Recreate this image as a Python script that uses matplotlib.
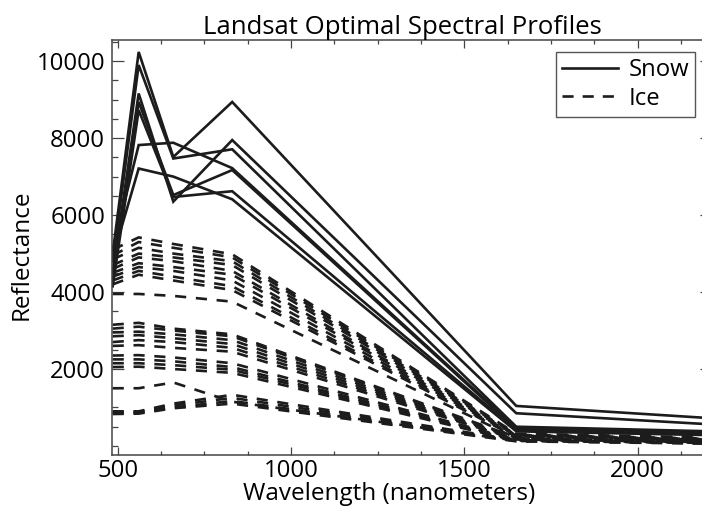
import matplotlib
matplotlib.use("Agg")
import matplotlib.pyplot as plt
from matplotlib.lines import Line2D
from matplotlib.ticker import MultipleLocator, FixedLocator
import numpy as np

# ---------------- data ----------------
wavelengths = [485, 560, 660, 830, 1650, 2215]

snow_1 = [5000, 10240, 7510, 8940, 1040, 720]
snow_2 = [4800, 9900, 7470, 7710, 500, 380]
snow_3 = [4500, 9160, 6350, 7950, 850, 560]
snow_4 = [4300, 8940, 6520, 7170, 440, 320]
snow_5 = [4150, 8730, 6470, 6620, 410, 300]
snow_6 = [5100, 7820, 7880, 7220, 470, 350]
snow_7 = [4900, 7210, 7000, 6410, 380, 280]
snow_profiles = [snow_1, snow_2, snow_3, snow_4, snow_5, snow_6, snow_7]

ice_u1 = [5100, 5420, 5250, 4980, 320, 220]
ice_u2 = [4950, 5300, 5150, 4900, 300, 200]
ice_u3 = [4850, 5150, 5000, 4800, 290, 190]
ice_u4 = [4700, 5000, 4900, 4700, 280, 180]
ice_u5 = [4600, 4900, 4800, 4550, 270, 170]
ice_u6 = [4500, 4750, 4650, 4450, 260, 160]
ice_u7 = [4400, 4650, 4550, 4300, 250, 150]
ice_u8 = [4300, 4550, 4400, 4150, 240, 140]
ice_u9 = [4200, 4450, 4300, 4050, 230, 130]
ice_u10 = [3950, 3950, 3900, 3750, 200, 110]
ice_m1 = [3150, 3200, 3050, 2900, 220, 150]
ice_m2 = [3050, 3100, 3000, 2850, 210, 140]
ice_m3 = [2950, 2970, 2900, 2750, 200, 130]
ice_m4 = [2850, 2880, 2800, 2650, 190, 120]
ice_m5 = [2700, 2750, 2700, 2550, 180, 110]
ice_m6 = [2600, 2620, 2550, 2450, 170, 100]
ice_m7 = [2350, 2360, 2300, 2150, 160, 100]
ice_m8 = [2250, 2250, 2200, 2050, 150, 90]
ice_m9 = [2150, 2150, 2100, 1980, 140, 90]
ice_m10 = [2050, 2060, 2000, 1900, 130, 80]
ice_l0 = [1500, 1500, 1650, 1150, 140, 80]
ice_l1 = [900, 900, 1100, 1330, 150, 80]
ice_l2 = [880, 880, 1050, 1250, 140, 70]
ice_l3 = [850, 860, 1000, 1170, 130, 70]
ice_l4 = [830, 840, 980, 1100, 120, 60]
ice_profiles = [ice_u1, ice_u2, ice_u3, ice_u4, ice_u5, ice_u6, ice_u7, ice_u8,
                ice_u9, ice_u10, ice_m1, ice_m2, ice_m3, ice_m4, ice_m5, ice_m6,
                ice_m7, ice_m8, ice_m9, ice_m10, ice_l0, ice_l1, ice_l2, ice_l3,
                ice_l4]

x_major_ticks = [500, 1000, 1500, 2000]
y_major_ticks = [2000, 4000, 6000, 8000, 10000]
legend_labels = ["Snow", "Ice"]

title = "Landsat Optimal Spectral Profiles"
xlabel = "Wavelength (nanometers)"
ylabel = "Reflectance"

# ---------------- style ----------------
plt.rcParams['font.family'] = ['Open Sans', 'DejaVu Sans']
plt.rcParams['lines.scale_dashes'] = False
W, H = 702, 514
fig = plt.figure(figsize=(W / 100, H / 100), dpi=100)
ax_l, ax_r, ax_t, ax_b = 112, 712, 40, 455
ax = fig.add_axes([ax_l / W, 1 - ax_b / H, (ax_r - ax_l) / W, (ax_b - ax_t) / H])

line_color = '#1c1c1c'
ice_dash = (0, (8.0, 7.0))

for prof in ice_profiles:
    ax.plot(wavelengths, prof, color=line_color, lw=1.9, linestyle=ice_dash,
            solid_capstyle='butt', dash_capstyle='butt')
for prof in snow_profiles:
    ax.plot(wavelengths, prof, color=line_color, lw=1.9, solid_joinstyle='miter')

ax.set_xlim(483, 2215)
ax.set_ylim(-235, 10550)

ax.xaxis.set_major_locator(FixedLocator(x_major_ticks))
ax.xaxis.set_minor_locator(MultipleLocator(125))
ax.yaxis.set_major_locator(FixedLocator(y_major_ticks))
ax.yaxis.set_minor_locator(MultipleLocator(500))

spine_color = '#444444'
for s in ax.spines.values():
    s.set_color(spine_color)
    s.set_linewidth(1.1)

ax.tick_params(axis='x', which='major', direction='in', length=5.8, width=0.9,
               top=True, bottom=True, color=spine_color, labelsize=17.2, pad=3)
ax.tick_params(axis='x', which='minor', direction='in', length=2.9, width=0.9,
               top=True, bottom=True, color=spine_color)
ax.tick_params(axis='y', which='major', direction='in', length=8.6, width=0.9,
               left=True, right=True, color=spine_color, labelsize=17.2, pad=5)
ax.tick_params(axis='y', which='minor', direction='in', length=4.3, width=0.9,
               left=True, right=True, color=spine_color)

t = ax.set_title(title, fontsize=18.5, pad=4)
t.set_x((402 - ax_l) / (ax_r - ax_l))
ax.set_xlabel(xlabel, fontsize=17.5)
ax.xaxis.set_label_coords((389 - ax_l) / (ax_r - ax_l), -(494 - ax_b) / (ax_b - ax_t))
ax.xaxis.label.set_va('center')
ax.set_ylabel(ylabel, fontsize=17.5)
ax.yaxis.set_label_coords(-(ax_l - 22) / (ax_r - ax_l), (ax_b - 255) / (ax_b - ax_t))
ax.yaxis.label.set_va('center')

handles = [Line2D([], [], color=line_color, lw=1.9),
           Line2D([], [], color=line_color, lw=1.9, linestyle=(0, (8.0, 6.5)))]
leg = ax.legend(handles, legend_labels, loc='upper right',
                bbox_to_anchor=((695 - ax_l) / (ax_r - ax_l), (ax_b - 52) / (ax_b - ax_t)),
                borderaxespad=0, fontsize=17.2, handlelength=2.35, handletextpad=0.45,
                borderpad=0.25, labelspacing=0.2, fancybox=False, framealpha=1,
                edgecolor='#555555')
leg.get_frame().set_linewidth(1.0)

fig.savefig('out.png', dpi=100)
